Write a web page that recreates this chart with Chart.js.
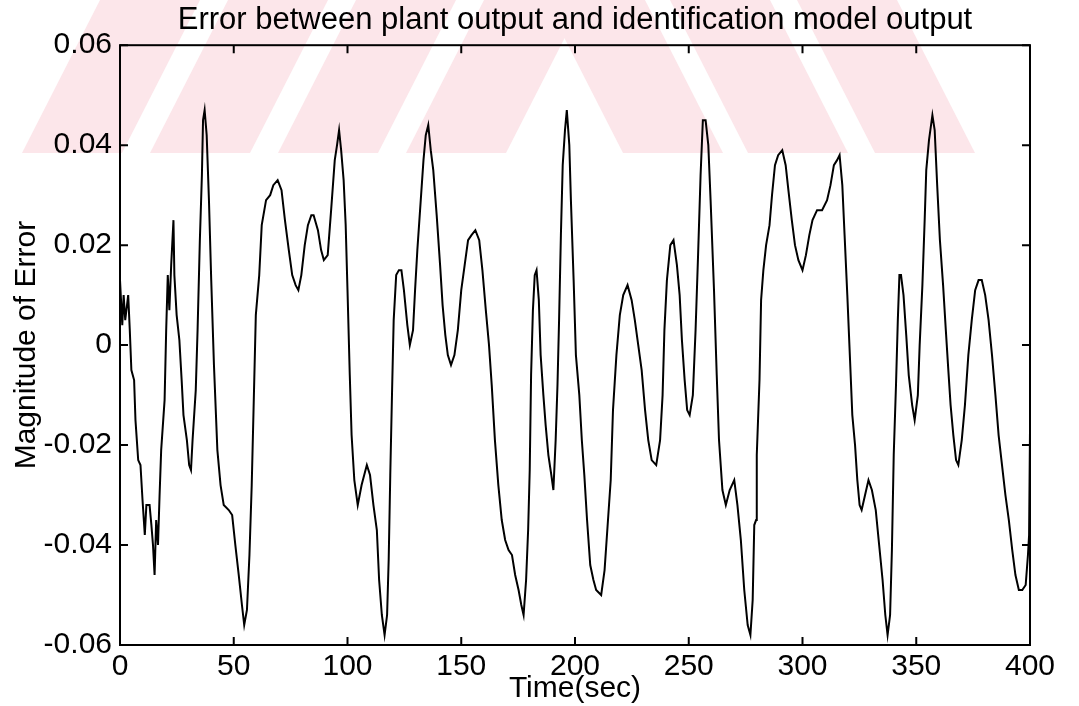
<!DOCTYPE html>
<html>
<head>
<meta charset="utf-8">
<title>Error between plant output and identification model output</title>
<script src="https://cdn.jsdelivr.net/npm/chart.js@4/dist/chart.umd.min.js"></script>
<style>
    body { margin: 0; background: #fff; }
    #wrap { width: 1079px; height: 706px; }
</style>
</head>
<body>
<div id="wrap"><canvas id="errChart" width="1079" height="706"></canvas></div>
<script>
// times (sec) and error values
const timeSec = [
    0, 1, 1.6, 2.3, 3.6, 4.3, 5, 6.2, 6.8, 8, 9, 9.9, 10.9, 11.6, 13, 13.8, 14.5, 15.2, 15.9, 16.7,
    17.4, 18.1, 19.6, 20.3, 21, 21.7, 22.5, 23.5, 23.9, 24.9, 26.1, 27.1, 27.9, 29.4, 30.4, 31.2, 31.9, 33.3, 34.1, 35.1,
    36, 36.5, 37.2, 38.1, 39.1, 40.1, 41.3, 42.8, 44.2, 45.6, 47.8, 49.3, 50.7, 52.2, 53.6, 54.6, 55.8, 56.9, 57.9, 58.7,
    59.7, 61.2, 62.3, 64.2, 66, 67.4, 69.3, 71, 72.5, 74.2, 75.7, 77.2, 78.4, 79.7, 81.2, 82.6, 84.1, 85.1, 87, 88.4,
    89.6, 91.3, 92.8, 94.4, 95.4, 96.3, 97.2, 98.3, 99.2, 100, 101, 101.8, 103, 104.5, 106.2, 108.5, 109.9, 111.4, 112.9, 113.9,
    115.1, 116.3, 117.4, 118.1, 118.8, 119.6, 120.3, 121.4, 122.6, 123.7, 124.8, 126.3, 127.4, 128.8, 129.7, 130.7, 132.2, 133.4, 134.4, 135.5,
    136.6, 137.7, 139.2, 140.7, 141.8, 143, 144.1, 145.5, 147, 148.5, 150, 151.5, 153, 154.5, 156.2, 157.9, 159.3, 160.8, 162.2, 163.4,
    164.8, 166.3, 167.8, 169.3, 170.8, 172.3, 173.7, 175.2, 176.4, 177.4, 178.5, 179.4, 180.1, 180.7, 181.5, 182.3, 183.1, 184.1, 184.9, 186.1,
    187.1, 188.3, 189.6, 190.5, 191.5, 192.3, 193, 193.8, 194.6, 195.6, 196.4, 197.5, 198.2, 199.4, 200.4, 201.9, 203, 204.1, 205.3, 206.7,
    208.1, 209.3, 211.5, 213, 214.5, 215.7, 216.7, 218.2, 219.7, 221.2, 223.1, 224.9, 226.3, 227.8, 229.3, 230.8, 232.2, 233.7, 235.7, 237.4,
    238.5, 239.3, 240.4, 241.9, 243.3, 244.8, 246, 247, 248.2, 249.3, 250.4, 251.8, 253, 254.1, 255.2, 256.2, 257.4, 258.6, 259.6, 261.1,
    262.3, 263.3, 264.8, 266.3, 268, 270, 271.4, 272.9, 274.4, 275.9, 277.1, 278.1, 278.8, 279.6, 279.9, 281.1, 281.8, 282.8, 284, 285.5,
    286.6, 287.9, 289.3, 291.1, 292.6, 293.8, 295.3, 296.7, 298.2, 300, 301.5, 303, 304.4, 306.4, 308.6, 310.8, 312.3, 313.8, 315.2, 316.3,
    317.5, 318.5, 319.7, 320.9, 321.9, 323.1, 324.1, 325.1, 326, 327.5, 329, 330.5, 332.2, 333.7, 335.2, 336.4, 337.4, 338.5, 339.3, 340.1,
    341.1, 341.9, 342.6, 343.3, 344.4, 345.6, 346.7, 348.2, 349.3, 350.7, 351.5, 352.7, 353.7, 354.4, 355.6, 357.1, 358.1, 359.2, 360.4, 361.8,
    363, 364.1, 365.1, 366.3, 367.5, 368.5, 370, 371.4, 372.9, 374.4, 375.9, 377.4, 378.8, 380.3, 381.8, 383.3, 384.8, 386.2, 387.7, 389.2,
    390.7, 392.2, 393.6, 395.1, 396.6, 398.1, 399.1, 399.6, 400
];
const errorVal = [
    0.013, 0.004, 0.010, 0.005, 0.010, 0.003, -0.005, -0.007, -0.015, -0.023, -0.024, -0.031, -0.038, -0.032, -0.032, -0.036, -0.040, -0.046, -0.035, -0.040,
    -0.030, -0.021, -0.011, 0.003, 0.014, 0.007, 0.016, 0.025, 0.014, 0.006, 0.001, -0.007, -0.014, -0.019, -0.024, -0.025, -0.019, -0.009, 0.003, 0.021,
    0.034, 0.045, 0.047, 0.042, 0.029, 0.013, -0.004, -0.021, -0.028, -0.032, -0.033, -0.034, -0.040, -0.046, -0.052, -0.056, -0.053, -0.042, -0.028, -0.013,
    0.006, 0.014, 0.024, 0.029, 0.030, 0.032, 0.033, 0.031, 0.025, 0.019, 0.014, 0.012, 0.011, 0.014, 0.020, 0.024, 0.026, 0.026, 0.023, 0.019,
    0.017, 0.018, 0.027, 0.037, 0.040, 0.043, 0.039, 0.033, 0.024, 0.011, -0.006, -0.018, -0.027, -0.032, -0.028, -0.024, -0.026, -0.032, -0.037, -0.047,
    -0.054, -0.058, -0.054, -0.043, -0.026, -0.009, 0.005, 0.014, 0.015, 0.015, 0.011, 0.004, 0.000, 0.003, 0.011, 0.019, 0.029, 0.037, 0.042, 0.044,
    0.039, 0.035, 0.026, 0.016, 0.008, 0.002, -0.002, -0.004, -0.002, 0.003, 0.011, 0.016, 0.021, 0.022, 0.023, 0.021, 0.015, 0.007, 0.000, -0.008,
    -0.019, -0.028, -0.035, -0.039, -0.041, -0.042, -0.046, -0.049, -0.052, -0.054, -0.047, -0.037, -0.025, -0.006, 0.007, 0.014, 0.015, 0.009, -0.002, -0.010,
    -0.016, -0.022, -0.026, -0.029, -0.019, -0.008, 0.005, 0.022, 0.036, 0.043, 0.047, 0.040, 0.029, 0.013, -0.002, -0.010, -0.019, -0.026, -0.035, -0.044,
    -0.047, -0.049, -0.050, -0.045, -0.035, -0.027, -0.013, -0.002, 0.006, 0.010, 0.012, 0.009, 0.005, 0.000, -0.005, -0.013, -0.019, -0.023, -0.024, -0.019,
    -0.010, 0.003, 0.013, 0.020, 0.021, 0.016, 0.010, 0.001, -0.007, -0.013, -0.014, -0.010, 0.003, 0.018, 0.034, 0.045, 0.045, 0.040, 0.029, 0.011,
    -0.006, -0.019, -0.029, -0.032, -0.029, -0.027, -0.032, -0.039, -0.049, -0.056, -0.058, -0.051, -0.036, -0.035, -0.022, -0.007, 0.009, 0.015, 0.020, 0.024,
    0.030, 0.036, 0.038, 0.039, 0.036, 0.031, 0.025, 0.020, 0.017, 0.015, 0.018, 0.022, 0.025, 0.027, 0.027, 0.029, 0.032, 0.036, 0.037, 0.038,
    0.032, 0.022, 0.010, -0.003, -0.014, -0.020, -0.027, -0.032, -0.033, -0.030, -0.027, -0.029, -0.033, -0.040, -0.047, -0.054, -0.058, -0.054, -0.041, -0.022,
    -0.008, 0.005, 0.014, 0.014, 0.010, 0.002, -0.006, -0.012, -0.015, -0.010, 0.000, 0.012, 0.025, 0.035, 0.041, 0.046, 0.043, 0.032, 0.021, 0.012,
    0.003, -0.005, -0.012, -0.018, -0.023, -0.024, -0.019, -0.012, -0.002, 0.005, 0.011, 0.013, 0.013, 0.010, 0.005, -0.002, -0.010, -0.018, -0.024, -0.030,
    -0.035, -0.041, -0.046, -0.049, -0.049, -0.048, -0.042, -0.038, -0.017
];
const xTicks = [0, 50, 100, 150, 200, 250, 300, 350, 400];
const yTicks = [-0.06, -0.04, -0.02, 0, 0.02, 0.04, 0.06];
const yTickLabels = ['-0.06', '-0.04', '-0.02', '0', '0.02', '0.04', '0.06'];

const FONT = "'Liberation Sans', Arial, sans-serif";

// faint pink striped watermark behind the top of the figure
const watermark = {
    id: 'watermark',
    beforeDraw(chart) {
        const ctx = chart.ctx;
        ctx.save();
        ctx.fillStyle = '#fff';
        ctx.fillRect(0, 0, chart.width, chart.height);
        ctx.beginPath();
        ctx.rect(0, 0, chart.width, 153);
        ctx.clip();
        ctx.fillStyle = '#fce6ea';
        const h = 153, lean = 78, w = 100;
        [22, 150, 278, 406].forEach(b => {
            ctx.beginPath();
            ctx.moveTo(b, h);
            ctx.lineTo(b + w, h);
            ctx.lineTo(b + w + lean, 0);
            ctx.lineTo(b + lean, 0);
            ctx.closePath();
            ctx.fill();
        });
        [545, 670, 797].forEach(t => {
            ctx.beginPath();
            ctx.moveTo(t, 0);
            ctx.lineTo(t + w, 0);
            ctx.lineTo(t + w + lean, h);
            ctx.lineTo(t + lean, h);
            ctx.closePath();
            ctx.fill();
        });
        ctx.restore();
    }
};

// box around the axes with inward ticks on all four sides
const frame = {
    id: 'frame',
    afterDraw(chart) {
        const {ctx, chartArea: a, scales: {x, y}} = chart;
        ctx.save();
        ctx.strokeStyle = '#000';
        ctx.lineWidth = 2;
        ctx.strokeRect(a.left, a.top, a.right - a.left, a.bottom - a.top);
        ctx.beginPath();
        const len = 8;
        xTicks.forEach(v => {
            const px = x.getPixelForValue(v);
            ctx.moveTo(px, a.bottom); ctx.lineTo(px, a.bottom - len);
            ctx.moveTo(px, a.top); ctx.lineTo(px, a.top + len);
        });
        yTicks.forEach(v => {
            const py = y.getPixelForValue(v);
            ctx.moveTo(a.left, py); ctx.lineTo(a.left + len, py);
            ctx.moveTo(a.right, py); ctx.lineTo(a.right - len, py);
        });
        ctx.stroke();
        ctx.restore();
    }
};

const points = timeSec.map((t, i) => ({x: t, y: errorVal[i]}));

new Chart(document.getElementById('errChart'), {
    type: 'line',
    data: {
        datasets: [{
            data: points,
            borderColor: '#000',
            borderWidth: 2,
            pointRadius: 0,
            tension: 0,
            fill: false
        }]
    },
    options: {
        responsive: false,
        animation: false,
        layout: { padding: { left: 0, right: 49, top: 0, bottom: 0 } },
        plugins: {
            legend: { display: false },
            tooltip: { enabled: false },
            title: {
                display: true,
                fullSize: false,
                text: 'Error between plant output and identification model output',
                color: '#000',
                font: { family: FONT, size: 31, weight: 'normal', lineHeight: 1.2 },
                padding: { top: 2, bottom: 6 }
            }
        },
        scales: {
            x: {
                type: 'linear',
                min: 0,
                max: 400,
                afterBuildTicks: s => { s.ticks = xTicks.map(v => ({value: v})); },
                afterFit: s => { s.height = 61; },
                grid: { display: false, drawTicks: false },
                border: { display: false },
                ticks: {
                    color: '#000',
                    padding: 4,
                    maxRotation: 0,
                    font: { family: FONT, size: 30 }
                },
                title: {
                    display: true,
                    text: 'Time(sec)',
                    color: '#000',
                    font: { family: FONT, size: 30, lineHeight: 1 },
                    padding: { top: 0, bottom: 2 }
                }
            },
            y: {
                min: -0.06,
                max: 0.06,
                afterBuildTicks: s => { s.ticks = yTicks.map(v => ({value: v})); },
                afterFit: s => { s.width = 120; },
                grid: { display: false, drawTicks: false },
                border: { display: false },
                ticks: {
                    color: '#000',
                    padding: 8,
                    font: { family: FONT, size: 30 },
                    callback: (v, i) => yTickLabels[i]
                },
                title: {
                    display: true,
                    text: 'Magnitude of Error',
                    color: '#000',
                    font: { family: FONT, size: 30, lineHeight: 1 },
                    padding: { top: 12, bottom: 0 }
                }
            }
        }
    },
    plugins: [watermark, frame]
});
</script>
</body>
</html>
